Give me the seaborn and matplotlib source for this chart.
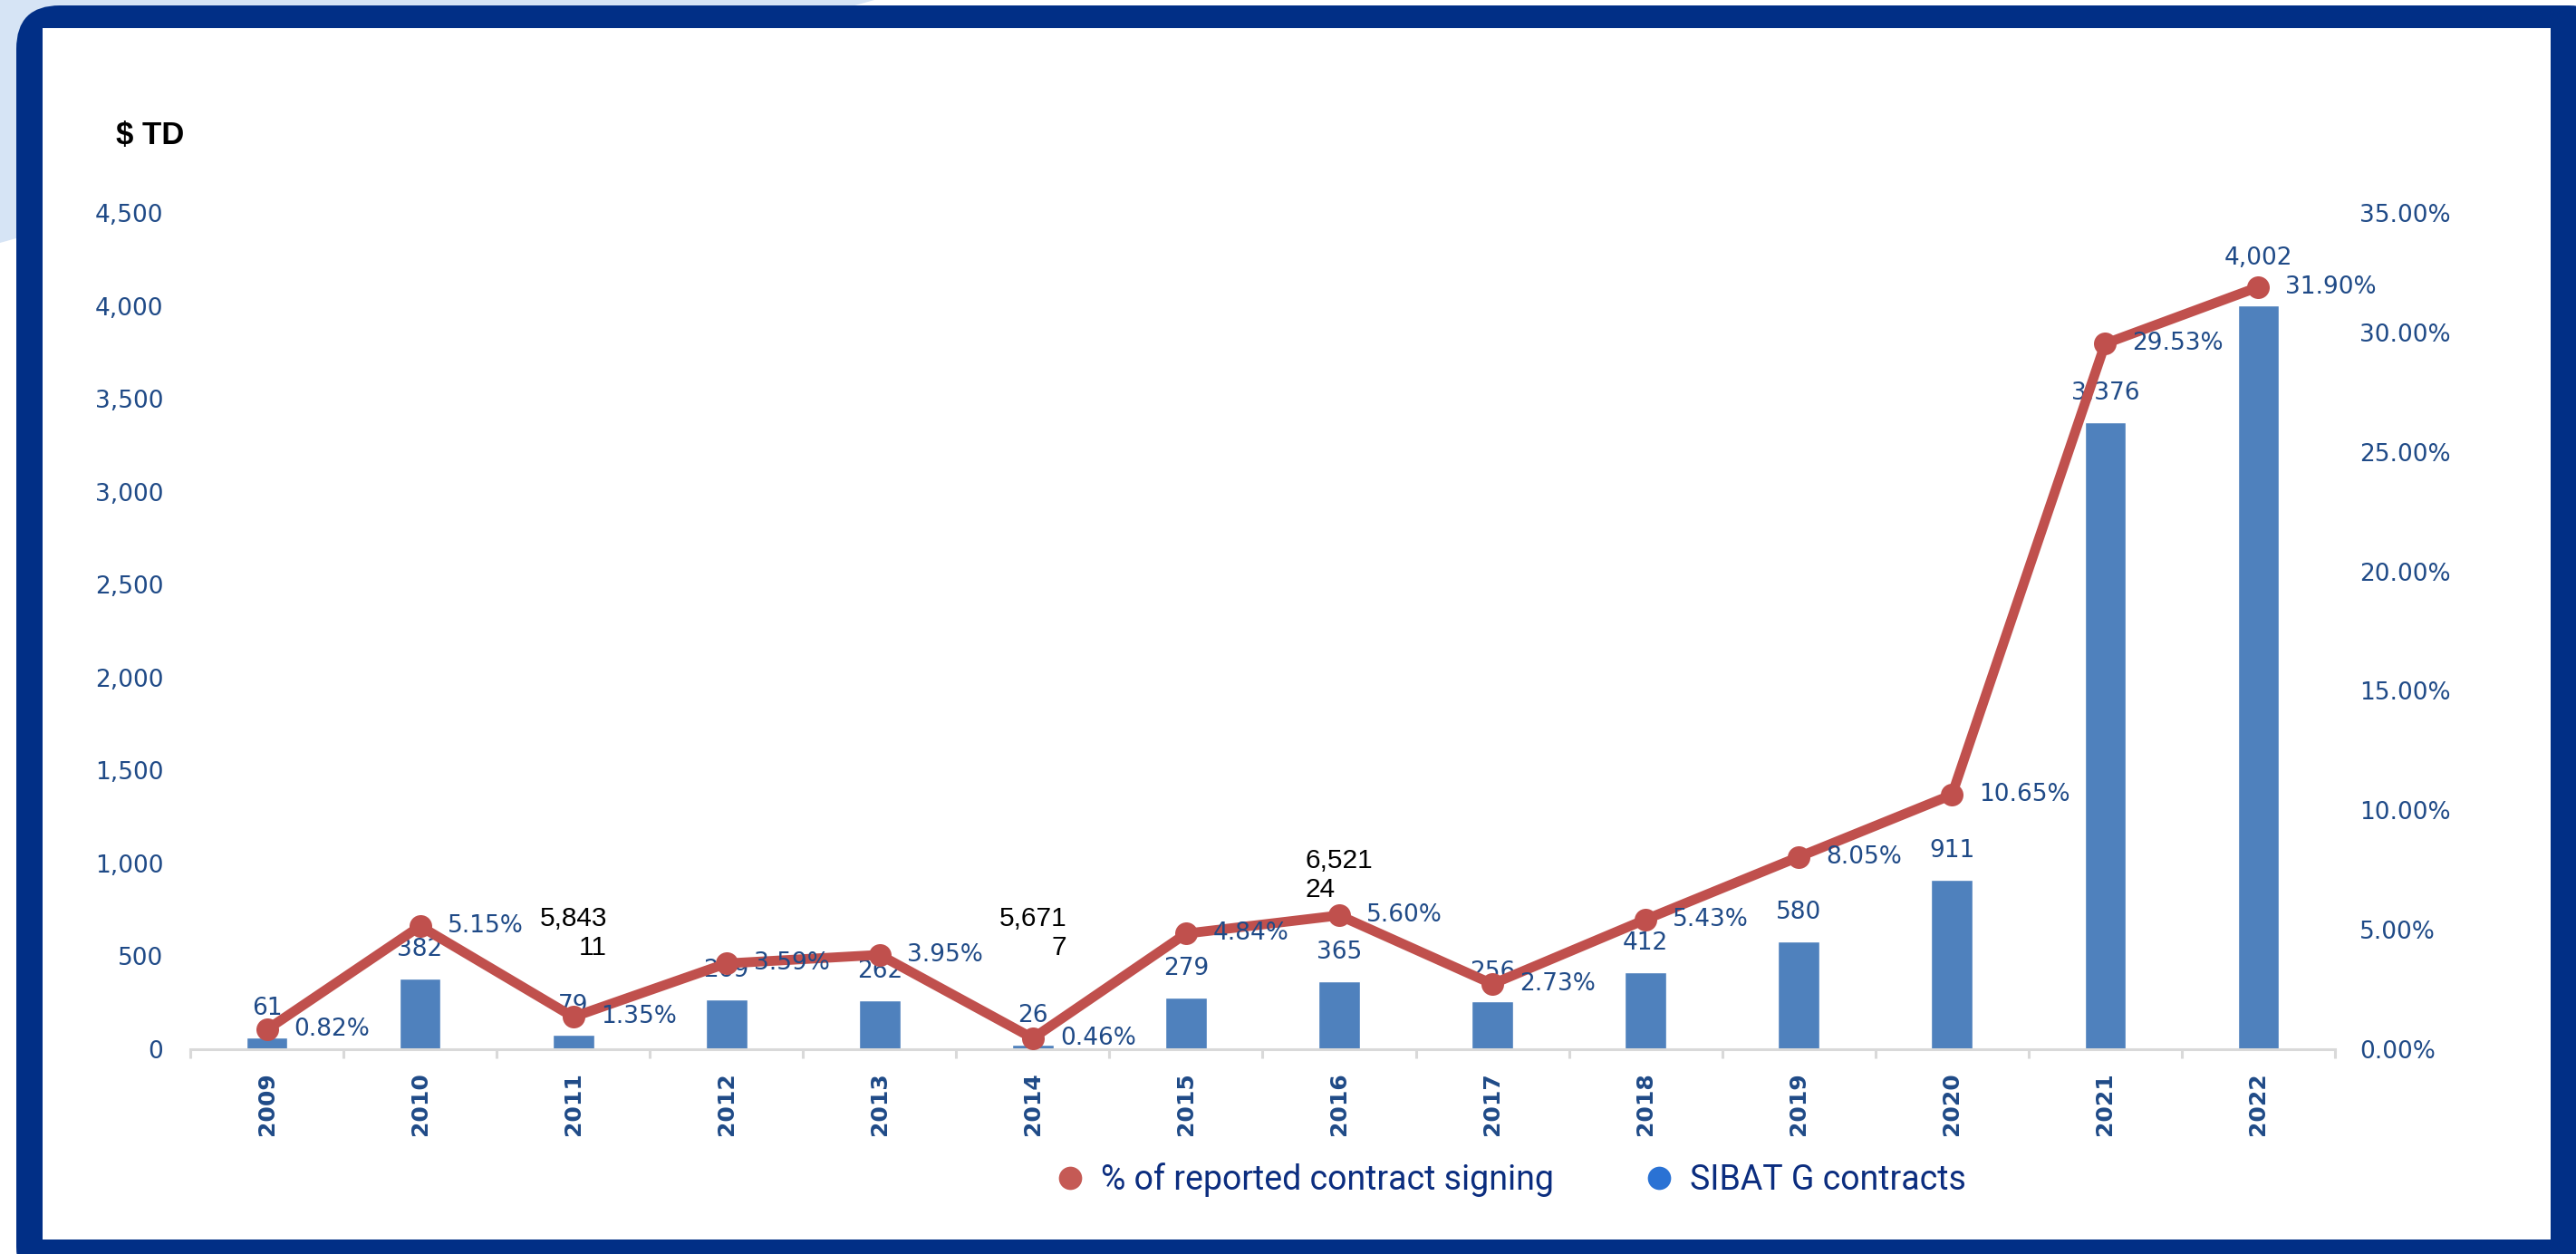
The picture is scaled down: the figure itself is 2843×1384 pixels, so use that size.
import matplotlib
matplotlib.use("Agg")
import matplotlib.pyplot as plt
import seaborn as sns
import pandas as pd
import numpy as np
from matplotlib.patches import FancyBboxPatch, Rectangle, Polygon
from matplotlib.lines import Line2D

# ---------------- data ----------------
years = ["2009", "2010", "2011", "2012", "2013", "2014", "2015",
         "2016", "2017", "2018", "2019", "2020", "2021", "2022"]
contracts = [61, 382, 79, 269, 262, 26, 279, 365, 256, 412, 580, 911, 3376, 4002]
pct_signed = [0.82, 5.15, 1.35, 3.59, 3.95, 0.46, 4.84, 5.60, 2.73, 5.43,
              8.05, 10.65, 29.53, 31.90]
left_ticks = [0, 500, 1000, 1500, 2000, 2500, 3000, 3500, 4000, 4500]
right_ticks = [0, 5, 10, 15, 20, 25, 30, 35]
stray_notes = ["5,843\n11", "5,671\n7", "6,521\n24"]
stray_years = ["2011", "2014", "2016"]
stray_levels = [624, 624, 936]
stray_align = ["right", "right", "left"]
legend_labels = ["% of reported contract signing", "SIBAT G contracts"]

# ---------------- style ----------------
W, H = 2843, 1384
NAVY = "#012F86"
LIGHT = "#D6E4F5"
BAR = "#4F81BD"
LINE = "#C0504D"
LBL = "#1F4A87"
AXIS_GREY = "#D9D9D9"
NARROW = ["Liberation Sans Narrow", "Liberation Sans", "DejaVu Sans"]
BAR_LABEL_GAP = 32                 # px between bar top and label centre
label_gap_override = {"2022": 52}  # label moved clear of the marker

sns.set_theme(style="white")
plt.rcParams["font.family"] = ["DejaVu Sans"]

fig = plt.figure(figsize=(W / 100, H / 100), dpi=100)
fig.patch.set_facecolor("white")

# background card in pixel coordinates
bg = fig.add_axes([0, 0, 1, 1], zorder=0)
bg.set_xlim(0, W)
bg.set_ylim(H, 0)
bg.axis("off")
bg.add_patch(Polygon([(0, 0), (965, 0), (0, 268)], closed=True,
                     facecolor=LIGHT, edgecolor="none"))
bg.add_patch(FancyBboxPatch((18, 6), W + 40 - 18, H + 40 - 6,
                            boxstyle="round,pad=0,rounding_size=48",
                            facecolor=NAVY, edgecolor="none"))
bg.add_patch(Rectangle((47, 31), 2815 - 47, 1368 - 31,
                       facecolor="white", edgecolor="none"))
bg.text(128, 150, "$ TD", ha="left", va="center", fontsize=25,
        fontweight="bold", color="black", family=NARROW)

# main axes
ax_left, ax_right, ax_top, ax_bottom = 210, 2577, 235, 1158
ax = fig.add_axes([ax_left / W, (H - ax_bottom) / H,
                   (ax_right - ax_left) / W, (ax_bottom - ax_top) / H], zorder=2)
ax.patch.set_alpha(0)

df = pd.DataFrame({"year": years, "contracts": contracts, "pct": pct_signed})

sns.barplot(data=df, x="year", y="contracts", color=BAR, saturation=1,
            width=0.27, ax=ax, zorder=2)

ax2 = ax.twinx()
sns.pointplot(data=df, x="year", y="pct", color=LINE, markers="o",
              errorbar=None, ax=ax2, markersize=18, linewidth=7.8,
              markeredgewidth=0)
for ln in ax2.lines:
    ln.set_solid_capstyle("round")
    ln.set_solid_joinstyle("round")

ax.set_xlim(-0.5, len(years) - 0.5)
ax2.set_xlim(-0.5, len(years) - 0.5)
ax.set_ylim(0, 4500)
ax2.set_ylim(0, 35)

# left axis
ax.set_yticks(left_ticks)
ax.set_yticklabels([f"{t:,}" for t in left_ticks])
ax.tick_params(axis="y", length=0, pad=21.5, labelsize=19, labelcolor=LBL)
# right axis
ax2.set_yticks(right_ticks)
ax2.set_yticklabels([f"{t:.2f}%" for t in right_ticks])
ax2.tick_params(axis="y", length=0, pad=19.5, labelsize=19, labelcolor=LBL)

# x axis
ax.set_xticks(range(len(years)))
ax.set_xticklabels(years)
ax.tick_params(axis="x", which="major", length=0, pad=18, labelsize=18,
               labelcolor=LBL, labelrotation=90)
for lbl in ax.get_xticklabels():
    lbl.set_fontweight("bold")
ax.set_xticks(np.arange(-0.5, len(years), 1.0), minor=True)
ax.tick_params(axis="x", which="minor", length=7.5, width=2.2,
               color=AXIS_GREY, direction="out", bottom=True)

for side in ["top", "right", "left"]:
    ax.spines[side].set_visible(False)
    ax2.spines[side].set_visible(False)
ax2.spines["bottom"].set_visible(False)
ax.spines["bottom"].set_color(AXIS_GREY)
ax.spines["bottom"].set_linewidth(2.2)
ax.set_xlabel("")
ax.set_ylabel("")
ax2.set_xlabel("")
ax2.set_ylabel("")
ax.grid(False)
ax2.grid(False)

# data labels
for i, (yr, v) in enumerate(zip(years, contracts)):
    gap = label_gap_override.get(yr, BAR_LABEL_GAP)
    ax.annotate(f"{v:,}", (i, v), xytext=(0, gap), textcoords="offset pixels",
                ha="center", va="center", fontsize=19, color=LBL, zorder=3)
for i, p in enumerate(pct_signed):
    ax2.annotate(f"{p:.2f}%", (i, p), xytext=(30, 0), textcoords="offset pixels",
                 ha="left", va="center", fontsize=19, color=LBL, zorder=5)

# stray black labels
for note, yr, lvl, al in zip(stray_notes, stray_years, stray_levels, stray_align):
    ax.text(years.index(yr), lvl, note, ha="center", va="center",
            multialignment=al, fontsize=21.5, color="black", family=NARROW,
            linespacing=1.15, zorder=4)

# legend
handles = [Line2D([], [], marker="o", ls="", color="#C55A55", markersize=18.5,
                  markeredgewidth=0),
           Line2D([], [], marker="o", ls="", color="#2A72D4", markersize=18.5,
                  markeredgewidth=0)]
fig.legend(handles, legend_labels, loc="center",
           bbox_to_anchor=(1668 / W, (H - 1302) / H), ncol=2, frameon=False,
           prop={"family": "Roboto", "size": 27}, labelcolor="#0B2D7F",
           handlelength=0.8, handletextpad=0.5, columnspacing=2.7)

fig.savefig("out.png", dpi=100)
